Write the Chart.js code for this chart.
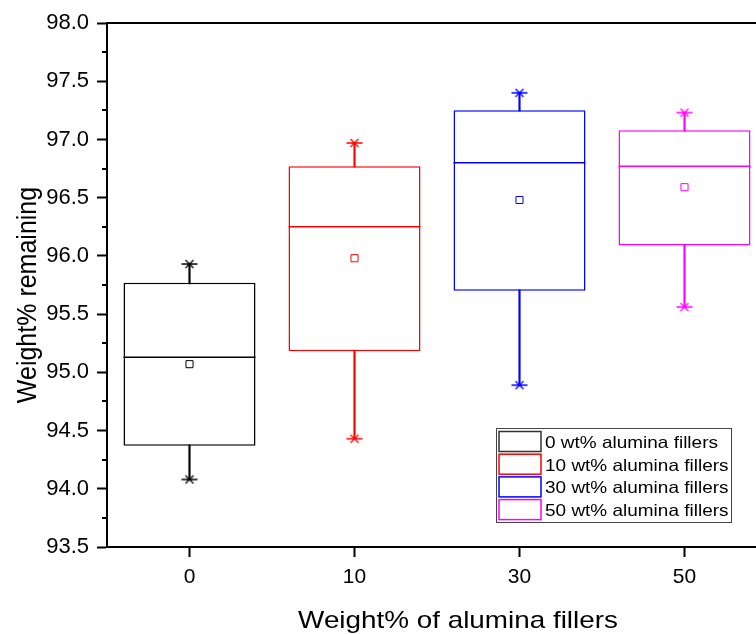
<!DOCTYPE html>
<html>
<head>
<meta charset="utf-8">
<script src="https://cdn.jsdelivr.net/npm/chart.js@4.4.0/dist/chart.umd.min.js"></script>
<style>
  html, body { margin: 0; padding: 0; overflow: hidden; background: #fff; }
</style>
</head>
<body>
<canvas id="boxChart" width="774" height="634"></canvas>
<script>
const categories = ['0', '10', '30', '50'];
const seriesNames = ['0 wt% alumina fillers', '10 wt% alumina fillers', '30 wt% alumina fillers', '50 wt% alumina fillers'];
const whiskerLow = [94.08, 94.43, 94.89, 95.56];
const quartile1 = [94.37, 95.18, 95.70, 96.09];
const medians = [95.13, 96.25, 96.80, 96.77];
const quartile3 = [95.77, 96.77, 97.25, 97.08];
const whiskerHigh = [95.93, 96.97, 97.40, 97.23];
const means = [95.07, 95.98, 96.48, 96.59];
const boxColors = ['#000000', '#ff0000', '#0000ff', '#ff00ff'];
const xTitle = 'Weight% of alumina fillers';
const yTitle = 'Weight% remaining';

const FONT = '"Liberation Sans", Arial, sans-serif';

// asterisk-like whisker end marker (X with a horizontal bar)
function makeMarker(color) {
  const c = document.createElement('canvas');
  c.width = 18;
  c.height = 12;
  const g = c.getContext('2d');
  g.strokeStyle = color;
  g.lineWidth = 1.3;
  g.beginPath();
  g.moveTo(1, 6); g.lineTo(17, 6);
  g.moveTo(5, 2); g.lineTo(13, 10);
  g.moveTo(13, 2); g.lineTo(5, 10);
  g.stroke();
  return c;
}
const markers = boxColors.map(makeMarker);

const boxRange = quartile1.map((q, i) => [q, quartile3[i]]);
// thin band so the median shows as a line of about 1.5 px
const medianBand = medians.map(m => [m - 0.0065, m + 0.0065]);
const whiskerRange = whiskerLow.map((w, i) => [w, whiskerHigh[i]]);

const decorPlugin = {
  id: 'decor',
  afterDraw(chart) {
    const {ctx, chartArea: area} = chart;
    const y = chart.scales.y;
    ctx.save();
    ctx.strokeStyle = '#000';
    ctx.lineWidth = 2;
    ctx.beginPath();
    ctx.moveTo(area.left - 1, area.top);
    ctx.lineTo(area.right, area.top);
    ctx.lineTo(area.right, area.bottom);
    ctx.stroke();

    // minor ticks on the y axis
    for (let v = y.min + 0.25; v < y.max; v += 0.5) {
      const py = Math.round(y.getPixelForValue(v));
      ctx.beginPath();
      ctx.moveTo(area.left - 5, py);
      ctx.lineTo(area.left, py);
      ctx.stroke();
    }

    ctx.fillStyle = '#000';
    // x title
    ctx.save();
    ctx.font = '24px ' + FONT;
    ctx.textAlign = 'center';
    ctx.textBaseline = 'alphabetic';
    ctx.translate(area.left + 351, 628);
    ctx.scale(1.16, 1);
    ctx.fillText(xTitle, 0, 0);
    ctx.restore();

    // y title
    ctx.save();
    ctx.font = '25px ' + FONT;
    ctx.textAlign = 'center';
    ctx.textBaseline = 'alphabetic';
    ctx.translate(36, (area.top + area.bottom) / 2 + 10);
    ctx.rotate(-Math.PI / 2);
    ctx.scale(1, 1.08);
    ctx.fillText(yTitle, 0, 0);
    ctx.restore();

    // legend
    const lx = area.right - 271;
    const ly = area.bottom - 119;
    ctx.strokeStyle = '#444';
    ctx.lineWidth = 1;
    ctx.strokeRect(lx + 0.5, ly + 0.5, 235, 94);
    seriesNames.forEach((name, i) => {
      const rowY = ly + 3.5 + i * 22.7;
      ctx.strokeStyle = i === 0 ? '#333' : boxColors[i];
      ctx.lineWidth = 1.5;
      ctx.strokeRect(lx + 3, rowY, 42, 20);
      ctx.save();
      ctx.font = '16.5px ' + FONT;
      ctx.textAlign = 'left';
      ctx.textBaseline = 'alphabetic';
      ctx.translate(lx + 49, rowY + 16.5);
      ctx.scale(1.15, 1);
      ctx.fillText(name, 0, 0);
      ctx.restore();
    });
    ctx.restore();
  }
};

window.addEventListener('load', () => {
  const ctx = document.getElementById('boxChart').getContext('2d');
  new Chart(ctx, {
    type: 'bar',
    data: {
      labels: categories,
      datasets: [
        {
          type: 'line',
          label: 'Mean',
          data: means,
          showLine: false,
          pointStyle: 'rect',
          pointRadius: 5,
          pointBorderWidth: 1,
          pointBorderColor: boxColors,
          pointBackgroundColor: '#ffffff'
        },
        {
          type: 'line',
          label: 'Max',
          data: whiskerHigh,
          showLine: false,
          pointStyle: markers,
          pointRadius: 6
        },
        {
          type: 'line',
          label: 'Min',
          data: whiskerLow,
          showLine: false,
          pointStyle: markers,
          pointRadius: 6
        },
        {
          label: 'Median',
          data: medianBand,
          grouped: false,
          backgroundColor: boxColors,
          borderWidth: 0,
          barPercentage: 0.8,
          categoryPercentage: 1
        },
        {
          label: 'Box',
          data: boxRange,
          grouped: false,
          backgroundColor: '#ffffff',
          borderColor: boxColors,
          borderWidth: 1.5,
          borderSkipped: false,
          barPercentage: 0.8,
          categoryPercentage: 1
        },
        {
          label: 'Whisker',
          data: whiskerRange,
          grouped: false,
          backgroundColor: boxColors,
          borderWidth: 0,
          barThickness: 1.5
        }
      ]
    },
    options: {
      responsive: false,
      animation: false,
      events: [],
      layout: {
        padding: {top: 23, right: 0, bottom: 0, left: 0}
      },
      plugins: {
        legend: {display: false},
        tooltip: {enabled: false}
      },
      scales: {
        x: {
          offset: true,
          grid: {
            drawOnChartArea: false,
            offset: false,
            tickLength: 10,
            tickWidth: 2,
            tickColor: '#000'
          },
          border: {color: '#000', width: 2},
          ticks: {
            color: '#000',
            padding: 8,
            font: {family: FONT, size: 21}
          },
          afterFit(scale) { scale.height = 87; }
        },
        y: {
          min: 93.5,
          max: 98,
          grid: {
            drawOnChartArea: false,
            tickLength: 10,
            tickWidth: 2,
            tickColor: '#000'
          },
          border: {color: '#000', width: 2},
          ticks: {
            stepSize: 0.5,
            color: '#000',
            padding: 8,
            font: {family: FONT, size: 22},
            callback: v => Number(v).toFixed(1)
          },
          afterFit(scale) { scale.width = 107; }
        }
      }
    },
    plugins: [decorPlugin]
  });
});
</script>
</body>
</html>
